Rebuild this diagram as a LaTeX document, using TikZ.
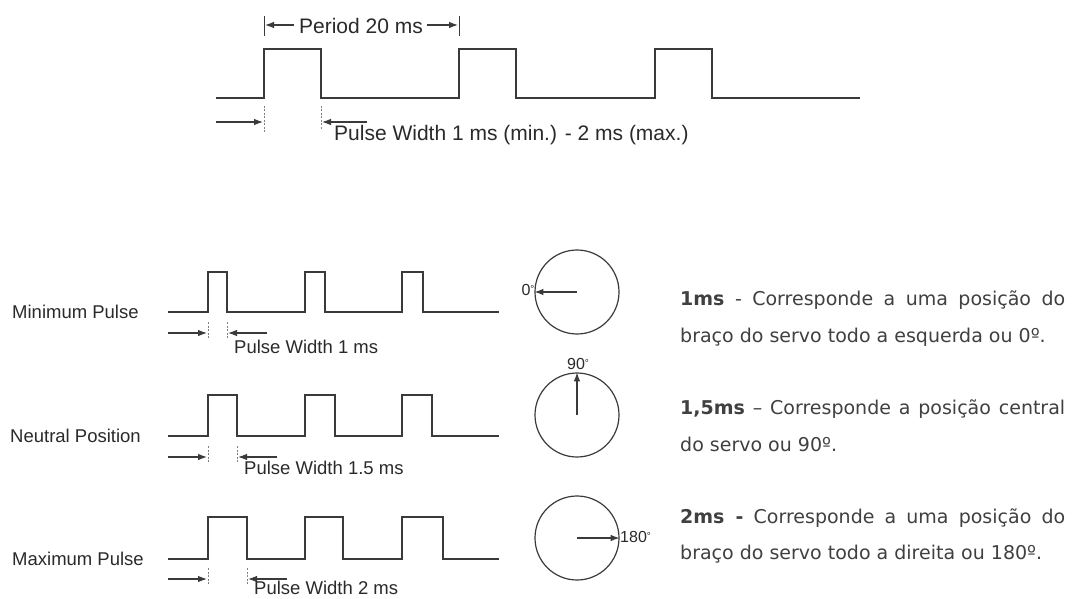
\documentclass[tikz,border=0pt]{standalone}
\usepackage{fontspec}
\setmainfont{Liberation Sans}
\newfontfamily\vfont{DejaVu Sans}
\usetikzlibrary{arrows.meta}
\definecolor{linec}{HTML}{3A3A3A}
\definecolor{txtc}{HTML}{2A2A2A}
\definecolor{ptxt}{HTML}{404040}
\begin{document}
\begin{tikzpicture}[x=1pt,y=-1pt,
  wave/.style={line width=1.6pt, draw=linec, line join=miter},
  dimarrow/.style={line width=1.1pt, draw=linec, -{Latex[length=9pt,width=6.5pt]}},
  tickline/.style={line width=0.6pt, draw=gray, dash pattern=on 2pt off 1.5pt},
  solidtick/.style={line width=1pt, draw=linec},
  lbl/.style={font=\fontsize{18.5}{20}\selectfont, text=txtc, inner sep=0pt},
  toplbl/.style={font=\fontsize{21}{23}\selectfont, text=txtc, inner sep=0pt},
  deg/.style={font=\fontsize{16}{18}\selectfont, text=txtc, inner sep=0pt},
  dial/.style={line width=1.2pt, draw=linec},
  ptext/.style={font=\vfont\fontsize{19}{22}\selectfont, text=ptxt, inner sep=0pt, anchor=base west}]
\fill[white] (0,0) rectangle (1076,599);
\useasboundingbox (0,0) rectangle (1076,599);

% ---------- top waveform ----------
\draw[wave] (216,98) -- (264,98) -- (264,49) -- (321,49) -- (321,98) -- (459,98) -- (459,49) -- (516,49) -- (516,98)
  -- (655,98) -- (655,49) -- (712,49) -- (712,98) -- (860,98);
% period
\draw[solidtick] (264,16) -- (264,36);
\draw[solidtick] (459,16) -- (459,36);
\node[toplbl] (per) at (361,26) {Period 20 ms};
\draw[dimarrow] (per.west) ++(-5,-1) -- (265,25);
\draw[dimarrow] (per.east) ++(4,-1) -- (458,25);
% pulse width
\draw[tickline] (264,106) -- (264,132);
\draw[tickline] (321,106) -- (321,130);
\coordinate (tl) at (216,122);
\coordinate (tr) at (367,122);
\draw[dimarrow] (tl) -- (263,122);
\draw[dimarrow] (tr) -- (322,122);
\node[toplbl, anchor=west] (tpw) at (334,135) {Pulse Width 1 ms (min.) - 2 ms (max.)};

% ---------- lower waveforms ----------
\foreach \b/\h/\fa/\fb/\fc/\a/\t/\nm/\pw/\lx [count=\i] in
  {312/272/227/325/423/333/347/Minimum Pulse/1 ms/12,
   436/395/237/335/432/457/468/Neutral Position/1.5 ms/10,
   559/517/247/343/443/579/588/Maximum Pulse/2 ms/12}{
  \draw[wave] (168,\b) -- (208,\b) -- (208,\h) -- (\fa,\h) -- (\fa,\b) -- (305,\b) -- (305,\h) -- (\fb,\h) -- (\fb,\b)
    -- (402,\b) -- (402,\h) -- (\fc,\h) -- (\fc,\b) -- (499,\b);
  \node[lbl, anchor=west] (name\i) at (\lx,\b) {\nm};
  \draw[tickline] (208,\a-11) -- (208,\a+6);
  \draw[tickline] (\fa,\a-11) -- (\fa,\a+6);
  \coordinate (la\i) at (168,\a);
  \coordinate (ra\i) at (\fa+40,\a);
  \draw[dimarrow] (la\i) -- (207,\a);
  \draw[dimarrow] (ra\i) -- (\fa+1,\a);
  \node[lbl, anchor=west] (pw\i) at (\fa+7,\t) {Pulse Width \pw};
}

% ---------- dials ----------
\node[dial, circle, minimum size=84pt, inner sep=0pt] (c1) at (577,292) {};
\node[dial, circle, minimum size=84pt, inner sep=0pt] (c2) at (577,415) {};
\node[dial, circle, minimum size=84pt, inner sep=0pt] (c3) at (577,538) {};
\draw[dimarrow] (c1.center) -- (c1.west);
\draw[dimarrow] (c2.center) -- (c2.north);
\draw[dimarrow] (c3.center) -- (c3.east);
\node[deg] (d1) at (528,290) {0\raisebox{0.4ex}{\fontsize{10}{10}\selectfont°}};
\node[deg] (d2) at (578,364) {90\raisebox{0.4ex}{\fontsize{10}{10}\selectfont°}};
\node[deg, anchor=west] (d3) at (620,537) {180\raisebox{0.4ex}{\fontsize{10}{10}\selectfont°}};

% ---------- explanation text ----------
\node[ptext] (t1a) at (680,305) {\makebox[385pt][s]{\textbf{1ms} - Corresponde a uma posição do}};
\node[ptext] (t1b) at (680,342) {braço do servo todo a esquerda ou 0º.};
\node[ptext] (t2a) at (680,414) {\makebox[385pt][s]{\textbf{1,5ms} – Corresponde a posição central}};
\node[ptext] (t2b) at (680,451) {do servo ou 90º.};
\node[ptext] (t3a) at (680,523) {\makebox[385pt][s]{\textbf{2ms -} Corresponde a uma posição do}};
\node[ptext] (t3b) at (680,559) {braço do servo todo a direita ou 180º.};
\end{tikzpicture}
\end{document}
